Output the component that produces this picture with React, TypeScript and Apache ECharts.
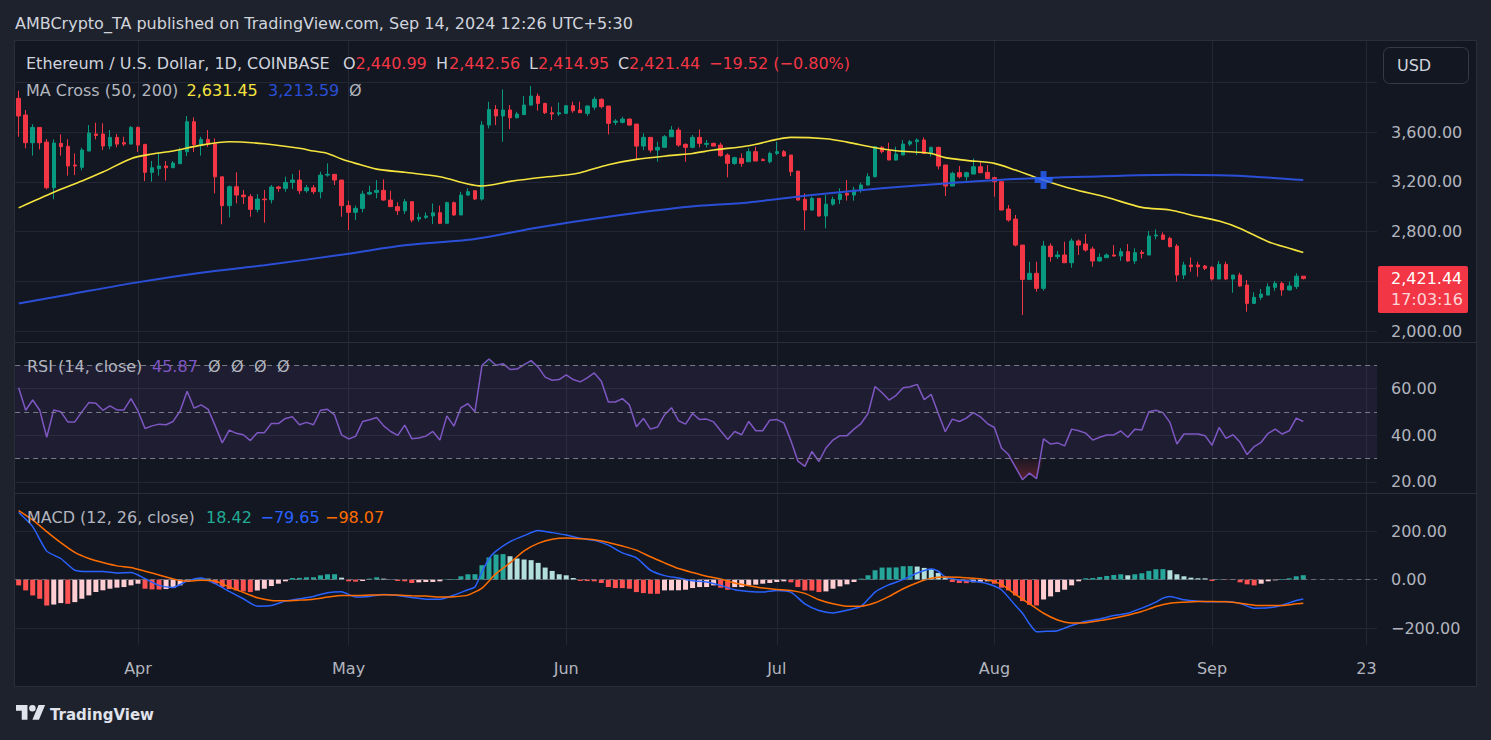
import React, { useEffect, useRef } from "react";
import * as echarts from "echarts";

const FONT = "'DejaVu Sans', 'Noto Sans', sans-serif";
const BG = "#131722";
const OUTER = "#1E222D";
const GRID = "#232733";
const TEXT = "#B2B5BE";
const LIGHT = "#D1D4DC";
const UP = "#089981";
const DOWN = "#F23645";
const MA_FAST = "#F5E33E";
const MA_SLOW = "#2A4FD6";
const RSI_C = "#7E57C2";

// ---- categories: one per calendar day (2024-03-15 .. 2024-09-24) ----
const dayCount = 194;
const days: string[] = [];
for (let i = 0; i < dayCount; i++) {
  days.push(new Date(Date.UTC(2024, 2, 15) + i * 86400000).toISOString().slice(0, 10));
}
const tickDays = ["2024-04-01", "2024-05-01", "2024-06-01", "2024-07-01", "2024-08-01", "2024-09-01", "2024-09-23"];
const tickNames = ["Apr", "May", "Jun", "Jul", "Aug", "Sep", "23"];

// ---- ETH/USD daily candles ----
const opens = [
  3871, 3737, 3514, 3637, 3519, 3152, 3509, 3485, 3335, 3316,
  3447, 3584, 3584, 3487, 3557, 3514, 3503, 3637, 3501, 3276,
  3305, 3327, 3313, 3345, 3442, 3683, 3500, 3541, 3505, 3240,
  3008, 3160, 3093, 3080, 2978, 3061, 3056, 3158, 3147, 3195,
  3214, 3128, 3152, 3120, 3254, 3260, 3214, 3008, 2954, 2986,
  3101, 3115, 3131, 3053, 3000, 2967, 3040, 2900, 2914, 2925,
  2951, 2866, 3032, 2933, 3093, 3128, 3061, 3656, 3782, 3729,
  3777, 3715, 3740, 3817, 3889, 3830, 3755, 3745, 3750, 3812,
  3777, 3750, 3800, 3863, 3809, 3678, 3678, 3704, 3664, 3487,
  3557, 3455, 3477, 3562, 3616, 3501, 3477, 3557, 3501, 3509,
  3495, 3415, 3348, 3388, 3361, 3442, 3380, 3361, 3428, 3442,
  3415, 3286, 3059, 2973, 3067, 2925, 3020, 3058, 3107, 3093,
  3134, 3174, 3241, 3477, 3447, 3375, 3415, 3503, 3522, 3536,
  3428, 3477, 3335, 3166, 3273, 3241, 3262, 3321, 3276, 3233,
  3201, 2981, 2900, 2691, 2415, 2464, 2343, 2683, 2598, 2611,
  2549, 2724, 2699, 2659, 2563, 2590, 2611, 2603, 2638, 2563,
  2632, 2611, 2764, 2772, 2745, 2683, 2450, 2531, 2531, 2523,
  2512, 2418, 2536, 2418, 2450, 2370, 2222, 2271, 2289, 2351,
  2383, 2330, 2357, 2440.99,
];
const highs = [
  3932, 3777, 3664, 3637, 3544, 3541, 3581, 3541, 3428, 3474,
  3656, 3675, 3670, 3616, 3584, 3562, 3648, 3645, 3501, 3367,
  3436, 3367, 3367, 3474, 3729, 3718, 3562, 3616, 3549, 3241,
  3170, 3276, 3134, 3101, 3101, 3134, 3174, 3168, 3241, 3262,
  3294, 3174, 3174, 3281, 3348, 3260, 3214, 3048, 3008, 3128,
  3168, 3214, 3219, 3128, 3035, 3061, 3040, 2946, 2954, 3026,
  3008, 3040, 3040, 3120, 3147, 3134, 3688, 3844, 3817, 3943,
  3817, 3763, 3889, 3970, 3911, 3836, 3804, 3838, 3817, 3844,
  3844, 3817, 3884, 3871, 3809, 3704, 3723, 3710, 3664, 3589,
  3557, 3522, 3576, 3648, 3637, 3509, 3576, 3621, 3536, 3514,
  3514, 3428, 3402, 3428, 3469, 3482, 3388, 3442, 3522, 3455,
  3415, 3286, 3107, 3080, 3067, 3093, 3080, 3147, 3214, 3160,
  3193, 3268, 3487, 3487, 3514, 3482, 3536, 3536, 3549, 3557,
  3482, 3482, 3335, 3281, 3327, 3281, 3388, 3362, 3335, 3241,
  3201, 3013, 2933, 2691, 2557, 2557, 2724, 2705, 2643, 2718,
  2745, 2737, 2780, 2678, 2624, 2624, 2691, 2665, 2699, 2665,
  2651, 2804, 2817, 2793, 2759, 2699, 2557, 2592, 2557, 2531,
  2523, 2563, 2557, 2450, 2469, 2410, 2311, 2338, 2383, 2402,
  2397, 2397, 2464, 2442.56,
];
const lows = [
  3562, 3469, 3410, 3460, 3140, 3059, 3410, 3249, 3254, 3292,
  3447, 3541, 3455, 3461, 3477, 3487, 3503, 3440, 3206, 3201,
  3249, 3209, 3313, 3345, 3407, 3440, 3410, 3480, 3107, 2858,
  2914, 3026, 3021, 2919, 2954, 2871, 3026, 3120, 3120, 3142,
  3101, 3112, 3101, 3067, 3241, 3174, 2919, 2812, 2892, 2954,
  3093, 3067, 3048, 2999, 2933, 2941, 2874, 2879, 2900, 2860,
  2860, 2860, 2927, 2932, 3088, 3053, 3048, 3629, 3656, 3522,
  3624, 3710, 3737, 3811, 3772, 3745, 3696, 3729, 3745, 3755,
  3755, 3729, 3777, 3790, 3581, 3656, 3669, 3650, 3380, 3455,
  3434, 3361, 3477, 3562, 3482, 3361, 3469, 3477, 3477, 3487,
  3402, 3236, 3335, 3321, 3361, 3367, 3370, 3348, 3415, 3402,
  3246, 3048, 2812, 2967, 2919, 2825, 3008, 3021, 3048, 3048,
  3112, 3168, 3235, 3428, 3375, 3370, 3415, 3487, 3415, 3423,
  3402, 3300, 3085, 3166, 3227, 3209, 3262, 3268, 3219, 3080,
  2968, 2879, 2680, 2129, 2415, 2316, 2324, 2557, 2579, 2549,
  2509, 2611, 2638, 2517, 2557, 2590, 2598, 2565, 2557, 2539,
  2584, 2611, 2737, 2737, 2673, 2397, 2418, 2477, 2437, 2490,
  2405, 2418, 2410, 2308, 2356, 2155, 2222, 2249, 2289, 2324,
  2284, 2324, 2338, 2414.95,
];
const closes = [
  3729, 3514, 3637, 3514, 3152, 3511, 3482, 3327, 3327, 3455,
  3592, 3573, 3487, 3557, 3503, 3503, 3637, 3495, 3276, 3313,
  3327, 3313, 3351, 3450, 3683, 3500, 3541, 3505, 3240, 3008,
  3160, 3093, 3080, 2978, 3061, 3056, 3158, 3147, 3195, 3214,
  3128, 3152, 3120, 3254, 3260, 3214, 3008, 2954, 2986, 3101,
  3115, 3131, 3053, 3000, 2967, 3040, 2892, 2914, 2925, 2951,
  2866, 3032, 2933, 3093, 3120, 3061, 3656, 3782, 3729, 3777,
  3715, 3745, 3817, 3889, 3830, 3755, 3745, 3755, 3812, 3771,
  3755, 3809, 3863, 3804, 3670, 3688, 3704, 3656, 3487, 3557,
  3455, 3477, 3562, 3616, 3495, 3477, 3557, 3509, 3509, 3487,
  3410, 3348, 3394, 3348, 3442, 3367, 3370, 3428, 3442, 3407,
  3281, 3053, 2973, 3067, 2925, 3020, 3058, 3101, 3093, 3134,
  3174, 3241, 3482, 3442, 3375, 3423, 3503, 3522, 3536, 3428,
  3477, 3327, 3166, 3268, 3241, 3273, 3321, 3273, 3227, 3201,
  2973, 2892, 2691, 2415, 2464, 2343, 2683, 2598, 2611, 2549,
  2724, 2691, 2651, 2563, 2592, 2611, 2603, 2638, 2563, 2630,
  2624, 2764, 2772, 2737, 2678, 2450, 2531, 2517, 2517, 2504,
  2418, 2536, 2418, 2450, 2362, 2222, 2271, 2297, 2356, 2383,
  2330, 2362, 2440.99, 2421.44,
];

// ---- MA Cross (50, 200): [day index, value] ----
const ma50 = [
  [0, 2990], [5, 3115], [9, 3206], [12, 3278], [16, 3386], [19, 3423], [22, 3447], [26, 3495],
  [30, 3522], [35, 3506], [40, 3469], [42, 3447], [44, 3428], [46, 3383], [48, 3348], [51, 3302],
  [55, 3276], [60, 3241], [64, 3182], [66, 3166], [70, 3203], [74, 3233], [78, 3254], [80, 3273],
  [84, 3337], [88, 3380], [93, 3412], [96, 3428], [99, 3455], [104, 3490], [108, 3541], [110, 3557],
  [115, 3546], [118, 3519], [122, 3474], [125, 3450], [130, 3428], [132, 3394], [135, 3372],
  [139, 3348], [142, 3294], [144, 3254], [146, 3214], [150, 3144], [155, 3075], [160, 2994],
  [164, 2973], [167, 2933], [171, 2884], [174, 2825], [178, 2718], [181, 2665], [183, 2631.45],
];
const ma200 = [
  [0, 2222], [7, 2292], [16, 2383], [26, 2469], [35, 2528], [47, 2622], [55, 2689], [65, 2740],
  [74, 2833], [84, 2919], [95, 2997], [104, 3034], [113, 3093], [123, 3147], [132, 3187],
  [142, 3222], [152, 3241], [165, 3257], [171, 3252], [176, 3241], [183, 3213.59],
];
const crossDay = 146;
const crossValue = 3214;

// ---- RSI (14, close), one per candle ----
const rsi = [
  60.35, 50.7, 55.1, 50.7, 39.1, 50.85, 50.1, 45.7, 45.7, 50.0,
  54.0, 53.7, 50.7, 52.55, 50.85, 50.85, 55.7, 50.4, 42.9, 44.0,
  44.75, 44.5, 45.9, 50.4, 58.9, 51.6, 53.0, 51.1, 44.0, 36.7,
  42.2, 40.8, 40.2, 37.7, 41.1, 41.1, 45.0, 45.0, 47.2, 47.9,
  44.5, 45.5, 44.5, 50.7, 51.1, 48.7, 40.1, 38.4, 39.5, 45.9,
  46.6, 47.6, 44.0, 41.6, 39.9, 44.3, 38.5, 38.8, 39.6, 41.6,
  37.9, 48.3, 43.9, 51.8, 53.5, 50.1, 70.0, 72.7, 70.0, 70.7,
  68.2, 68.4, 70.3, 72.0, 69.2, 64.9, 63.6, 63.9, 65.9, 63.9,
  62.9, 64.6, 66.7, 63.2, 54.25, 54.25, 55.7, 53.0, 43.6, 47.2,
  42.6, 43.5, 48.7, 51.8, 46.2, 44.75, 49.3, 46.7, 46.9, 45.7,
  41.9, 38.2, 41.6, 40.2, 45.9, 41.9, 41.9, 46.45, 46.7, 45.3,
  37.7, 28.9, 26.6, 33.0, 28.7, 34.5, 37.9, 39.8, 39.8, 42.6,
  45.0, 49.3, 60.9, 58.2, 55.1, 57.1, 60.35, 60.8, 61.8, 55.25,
  57.5, 49.3, 41.5, 46.9, 45.9, 47.3, 49.7, 47.9, 45.0, 43.3,
  34.5, 31.7, 26.3, 20.9, 23.75, 21.3, 38.4, 36.2, 36.7, 35.4,
  42.6, 41.9, 40.9, 37.9, 39.1, 40.1, 40.1, 41.8, 39.1, 42.6,
  42.2, 50.1, 50.7, 49.7, 45.5, 36.2, 40.5, 40.5, 40.5, 39.8,
  35.7, 43.3, 38.65, 40.2, 36.95, 31.7, 35.1, 36.95, 40.8, 42.6,
  40.5, 41.9, 47.3, 45.87,
];

// ---- MACD (12, 26, close) ----
const macdHist = [
  -23.6, -44.4, -65.3, -79, -107, -103, -97, -100, -93, -79,
  -65, -51, -44, -37.5, -33, -30.6, -23.6, -16.7, -37.5, -40.3,
  -40.8, -38.9, -34.7, -23.6, -9.7, 2.8, 6.9, 4.2, -16.7, -30.6,
  -38.9, -44.4, -48.6, -51.4, -44.4, -37.5, -26.4, -16.7, -6.9, 6.9,
  7.2, 9.7, 9.9, 18, 22.2, 22.5, 8.3, -6.9, -8.3, -5.6,
  4.2, 9.7, 4.2, 1, -5.6, -6.9, -13.9, -11.1, -9.7, -9.5,
  -6.9, 1.5, 2.8, 13.9, 22.2, 22.5, 59.7, 91.7, 104, 105.6,
  97.2, 87.5, 83.3, 80.6, 69.4, 50, 36.1, 22.2, 18, 6.9,
  -5.6, -5.8, -6.9, -13.9, -30.6, -34.7, -34.9, -37.5, -51.4, -55.6,
  -58.3, -58.5, -44.4, -44.2, -44.0, -41.7, -34.7, -30.6, -30.4, -23.6,
  -33.3, -41.7, -30.6, -30.4, -23.6, -20.8, -16.7, -13.9, -9.7, -6.9,
  -11.1, -30.6, -44.4, -45, -51.4, -48.6, -37.5, -27.8, -19.4, -9.7,
  4.2, 18, 38.9, 50, 50.2, 50.5, 55.6, 56, 54.2, 48.6,
  44.4, 27.8, 8.3, -9.7, -13.9, -14.5, -11.1, -8.3, -6.9, -16.7,
  -33.3, -44.4, -65.3, -88.9, -104, -107, -82, -69.4, -51.4, -41.7,
  -23.6, -6.9, 5.6, 6.9, 11.1, 15.3, 19.4, 22.2, 18, 22.2,
  26.4, 36.1, 43, 43.5, 38.9, 22.2, 13.9, 8.3, 5.6, 5.5,
  -5.6, 1.4, -1.4, -1.0, -11.1, -19.4, -23.6, -16.7, -6.9, -2.8,
  2.8, 5.6, 13.9, 18.42,
];
const macdLine = [
  [0, 277.8], [2, 219.5], [4, 118], [6, 87.5], [8, 38.9], [10, 33.3], [12, 33.3], [14, 27.8],
  [16, 29.2], [18, 4.2], [20, -23.6], [22, -32], [24, -5.6], [26, 6.9], [28, -16.7], [30, -48.6],
  [32, -79], [34, -109.7], [36, -107], [38, -88.9], [40, -79], [42, -69.4], [44, -54], [46, -50],
  [48, -72.2], [50, -69.4], [52, -61], [54, -65.3], [56, -73.6], [58, -80.6], [60, -80.6],
  [62, -64], [64, -41.7], [65, -30.6], [66, 32], [67, 87.5], [68, 118], [70, 157], [72, 182],
  [74, 202.8], [76, 194.5], [78, 184.7], [80, 170.8], [82, 162.5], [84, 143], [86, 111],
  [88, 90.3], [90, 38.9], [92, 16.7], [94, 6.9], [96, -4.2], [98, -9.7], [100, -23.6],
  [102, -41.7], [104, -48.6], [106, -51.4], [108, -44.4], [110, -51.4], [112, -100], [114, -127.8],
  [116, -137.5], [118, -126.4], [120, -111], [122, -51.4], [124, -20.8], [126, 0], [128, 27.8],
  [130, 44.4], [131, 34.7], [132, 11.1], [134, -1.4], [136, -6.9], [138, -16.7], [140, -41.7],
  [142, -107], [143, -139], [144, -183], [145, -215], [146, -214], [148, -211], [150, -190],
  [152, -172], [154, -162.5], [156, -148.6], [158, -139], [160, -118], [162, -93], [163, -76.4],
  [164, -69.4], [166, -83.3], [168, -88.9], [170, -91.7], [172, -90.3], [174, -98.6], [176, -118],
  [178, -116.7], [180, -105.6], [182, -86.1], [183, -79.65],
];
const signalLine = [
  [0, 286], [2, 247], [4, 198.6], [6, 152.8], [8, 112.5], [10, 87.5], [12, 70.8], [14, 57],
  [16, 50], [18, 34.7], [20, 19.4], [22, 2.8], [24, -5.6], [26, -2.8], [28, -5.6], [30, -30.6],
  [32, -52.8], [34, -75], [36, -86.1], [38, -87.5], [40, -84.7], [42, -80.6], [44, -72.2],
  [46, -65.3], [48, -65.3], [50, -63.9], [52, -62.5], [54, -63.9], [56, -66.7], [58, -68],
  [60, -72.2], [62, -70.8], [64, -63.9], [66, -34.7], [68, 25], [70, 69.4], [72, 119.4],
  [74, 150], [76, 166.7], [78, 172], [80, 169.5], [82, 165.3], [84, 154], [86, 139], [88, 122],
  [90, 94.5], [92, 69.4], [94, 45.8], [96, 29.2], [98, 13.9], [100, 2.8], [102, -13.9],
  [104, -25], [106, -34.7], [108, -40.3], [110, -44.4], [112, -56.9], [114, -83.3], [116, -100],
  [118, -109.7], [120, -109.7], [122, -95.8], [124, -69.4], [126, -37.5], [128, -12.5],
  [130, 5.6], [132, 11.1], [134, 9.7], [136, 5.6], [138, 0], [140, -19.4], [142, -61],
  [144, -100], [146, -139], [148, -166.7], [150, -179], [152, -177.8], [154, -169.5],
  [156, -159.7], [158, -147.2], [160, -132], [162, -111], [164, -97.2], [166, -93], [168, -90.3],
  [170, -90.3], [172, -91.7], [174, -97.2], [176, -105.6], [178, -107], [180, -107], [182, -100],
  [183, -98.07],
];

const TV_LOGO = "M14 22H7V11H0V4h14v18zM28 22h-8l7.5-18h8L28 22zM24 8a4 4 0 1 1-8 0a4 4 0 1 1 8 0z";
echarts.graphic.registerShape("tvlogo", echarts.graphic.extendPath(TV_LOGO, {}));

const fmt = (v: number) =>
  (v < 0 ? "\u2212" : "") +
  Math.abs(v).toLocaleString("en-US", { minimumFractionDigits: 2, maximumFractionDigits: 2 });

const txt = (x: number, y: number, text: string, fill: string, size = 16, weight = "normal") => ({
  type: "text",
  z: 100,
  silent: true,
  style: { x, y, text, fill, fontSize: size, fontFamily: FONT, fontWeight: weight, align: "left", verticalAlign: "middle" },
});

function histColor(i: number) {
  const v = macdHist[i];
  const p = i > 0 ? macdHist[i - 1] : 0;
  if (v >= 0) return v >= p ? "#26A69A" : "#B2DFDB";
  return v < p ? "#FF5252" : "#FFCDD2";
}

function buildOption() {
  const L = 15.15;
  const R = 114;
  const pair = (arr: number[][]) => arr.map(([d, v]) => [days[d], v]);
  const axisLabel = (hide: number[]) => ({
    color: TEXT,
    fontSize: 16,
    fontFamily: FONT,
    margin: 14,
    formatter: (v: number) => (hide.includes(v) ? "" : fmt(v)),
  });
  const valueAxis = (gridIndex: number, min: number, max: number, interval: number, hide: number[]) => ({
    type: "value",
    gridIndex,
    position: "right",
    min,
    max,
    interval,
    axisLine: { show: false },
    axisTick: { show: false },
    splitLine: { show: true, lineStyle: { color: GRID, width: 1 } },
    axisLabel: axisLabel(hide),
  });
  const hiddenCat = (gridIndex: number) => ({
    type: "category",
    gridIndex,
    data: days,
    boundaryGap: true,
    show: false,
  });
  const isTick = (_i: number, v: string) => tickDays.includes(v);

  return {
    animation: false,
    backgroundColor: OUTER,
    textStyle: { fontFamily: FONT },
    grid: [
      { left: 18.66, right: 117.5, top: 41, bottom: 95, containLabel: false, outerBoundsMode: "none" },
      { left: L, right: R, top: 82.3, height: 248.7, containLabel: false, outerBoundsMode: "none" },
      { left: L, right: R, top: 342, height: 139.8, containLabel: false, outerBoundsMode: "none" },
      { left: L, right: R, top: 531.3, height: 96.7, containLabel: false, outerBoundsMode: "none" },
    ],
    xAxis: [
      {
        type: "category",
        gridIndex: 0,
        data: days,
        boundaryGap: false,
        axisLine: { show: false },
        axisTick: { show: false },
        axisLabel: {
          interval: isTick,
          formatter: (v: string) => tickNames[tickDays.indexOf(v)] ?? "",
          color: TEXT,
          fontSize: 16,
          fontFamily: FONT,
          margin: 15,
        },
        splitLine: { show: true, interval: isTick, lineStyle: { color: GRID, width: 1 } },
      },
      hiddenCat(1),
      hiddenCat(2),
      hiddenCat(3),
    ],
    yAxis: [
      { type: "value", gridIndex: 0, min: 0, max: 1, show: false },
      valueAxis(1, 2000, 4000, 400, [4000, 2400]),
      valueAxis(2, 20, 80, 20, [80]),
      valueAxis(3, -200, 200, 200, []),
    ],
    series: [
      {
        type: "candlestick",
        xAxisIndex: 1,
        yAxisIndex: 1,
        barWidth: 4,
        data: opens.map((o, i) => [o, closes[i], lows[i], highs[i]]),
        itemStyle: { color: UP, color0: DOWN, borderColor: UP, borderColor0: DOWN, borderWidth: 1 },
        z: 2,
      },
      {
        type: "line",
        xAxisIndex: 1,
        yAxisIndex: 1,
        data: pair(ma50),
        showSymbol: false,
        smooth: 0.3,
        lineStyle: { color: MA_FAST, width: 1.6 },
        z: 3,
        silent: true,
      },
      {
        type: "line",
        xAxisIndex: 1,
        yAxisIndex: 1,
        data: pair(ma200),
        showSymbol: false,
        smooth: 0.3,
        lineStyle: { color: MA_SLOW, width: 2 },
        z: 3,
        silent: true,
      },
      {
        type: "scatter",
        xAxisIndex: 1,
        yAxisIndex: 1,
        data: [[days[crossDay], crossValue]],
        symbol: "path://M6,0L12,0L12,6L18,6L18,12L12,12L12,18L6,18L6,12L0,12L0,6L6,6Z",
        symbolSize: 18,
        itemStyle: { color: "#2962FF" },
        z: 5,
        silent: true,
      },
      {
        type: "line",
        xAxisIndex: 2,
        yAxisIndex: 2,
        data: rsi.map((v, i) => [days[i], v < 30 ? v : 30]),
        showSymbol: false,
        lineStyle: { width: 0, opacity: 0 },
        areaStyle: {
          origin: 30,
          color: new echarts.graphic.LinearGradient(0, 0, 0, 1, [
            { offset: 0, color: "rgba(242,54,69,0.05)" },
            { offset: 1, color: "rgba(242,54,69,0.45)" },
          ]),
        },
        silent: true,
        z: 2,
      },
      {
        type: "line",
        xAxisIndex: 2,
        yAxisIndex: 2,
        data: rsi.map((v, i) => [days[i], v > 70 ? v : 70]),
        showSymbol: false,
        lineStyle: { width: 0, opacity: 0 },
        areaStyle: {
          origin: 70,
          color: new echarts.graphic.LinearGradient(0, 0, 0, 1, [
            { offset: 0, color: "rgba(8,153,129,0.45)" },
            { offset: 1, color: "rgba(8,153,129,0.05)" },
          ]),
        },
        silent: true,
        z: 2,
      },
      {
        type: "line",
        xAxisIndex: 2,
        yAxisIndex: 2,
        data: rsi.map((v, i) => [days[i], v]),
        showSymbol: false,
        lineStyle: { color: RSI_C, width: 1.5 },
        z: 3,
        silent: true,
        markArea: {
          silent: true,
          itemStyle: { color: "rgba(126,87,194,0.1)" },
          data: [[{ yAxis: 30 }, { yAxis: 70 }]],
        },
        markLine: {
          silent: true,
          symbol: ["none", "none"],
          label: { show: false },
          lineStyle: { color: "#787B86", type: [5, 4], width: 1 },
          data: [{ yAxis: 70 }, { yAxis: 50 }, { yAxis: 30 }],
        },
      },
      {
        type: "line",
        xAxisIndex: 3,
        yAxisIndex: 3,
        data: [],
        z: 1,
        silent: true,
        markLine: {
          silent: true,
          symbol: ["none", "none"],
          label: { show: false },
          lineStyle: { color: "#787B86", type: [5, 4], width: 1, opacity: 0.8 },
          data: [{ yAxis: 0 }],
        },
      },
      {
        type: "bar",
        xAxisIndex: 3,
        yAxisIndex: 3,
        barWidth: 5,
        data: macdHist.map((v, i) => ({ value: [days[i], v], itemStyle: { color: histColor(i) } })),
        z: 2,
        silent: true,
      },
      {
        type: "line",
        xAxisIndex: 3,
        yAxisIndex: 3,
        data: pair(macdLine),
        showSymbol: false,
        smooth: 0.2,
        clip: false,
        lineStyle: { color: "#2962FF", width: 1.5 },
        z: 3,
        silent: true,
      },
      {
        type: "line",
        xAxisIndex: 3,
        yAxisIndex: 3,
        data: pair(signalLine),
        showSymbol: false,
        smooth: 0.2,
        clip: false,
        lineStyle: { color: "#FF6D00", width: 1.5 },
        z: 3,
        silent: true,
      },
    ],
    graphic: [
      {
        type: "rect",
        z: -10,
        silent: true,
        shape: { x: 14.5, y: 40.5, width: 1462, height: 646 },
        style: { fill: BG, stroke: "#2A2E39", lineWidth: 1 },
      },
      { type: "line", z: 50, silent: true, shape: { x1: 15, y1: 342.5, x2: 1476, y2: 342.5 }, style: { stroke: "#2A2E39", lineWidth: 1 } },
      { type: "line", z: 50, silent: true, shape: { x1: 15, y1: 493.5, x2: 1476, y2: 493.5 }, style: { stroke: "#2A2E39", lineWidth: 1 } },
      txt(15, 23, "AMBCrypto_TA published on TradingView.com, Sep 14, 2024 12:26 UTC+5:30", LIGHT),
      txt(26, 63.5, "Ethereum / U.S. Dollar, 1D, COINBASE", LIGHT),
      txt(343, 63.5, "O", LIGHT),
      txt(355.5, 63.5, "2,440.99", DOWN),
      txt(436, 63.5, "H", LIGHT),
      txt(449, 63.5, "2,442.56", DOWN),
      txt(529, 63.5, "L", LIGHT),
      txt(538, 63.5, "2,414.95", DOWN),
      txt(618, 63.5, "C", LIGHT),
      txt(629, 63.5, "2,421.44", DOWN),
      txt(709, 63.5, "\u221219.52 (\u22120.80%)", DOWN),
      txt(26, 90, "MA Cross (50, 200)", TEXT),
      txt(186.5, 90, "2,631.45", MA_FAST),
      txt(268, 90, "3,213.59", MA_SLOW),
      txt(349, 90, "\u00D8", TEXT),
      txt(27, 366, "RSI (14, close)", TEXT),
      txt(152, 366, "45.87", RSI_C),
      txt(208, 366, "\u00D8", TEXT),
      txt(231, 366, "\u00D8", TEXT),
      txt(254, 366, "\u00D8", TEXT),
      txt(277, 366, "\u00D8", TEXT),
      txt(27, 517, "MACD (12, 26, close)", TEXT),
      txt(206, 517, "18.42", "#22AB94"),
      txt(260.5, 517, "\u221279.65", "#2962FF"),
      txt(325, 517, "\u221298.07", "#FF6D00"),
      {
        type: "rect",
        z: 100,
        silent: true,
        shape: { x: 1383.5, y: 47.5, width: 85, height: 36, r: 6 },
        style: { fill: BG, stroke: "#363A45", lineWidth: 1 },
      },
      txt(1397, 65.5, "USD", LIGHT),
      {
        type: "rect",
        z: 100,
        silent: true,
        shape: { x: 1378, y: 266, width: 90, height: 47, r: 2 },
        style: { fill: DOWN },
      },
      txt(1391, 278.5, "2,421.44", "#FFFFFF"),
      txt(1391, 299, "17:03:16", "rgba(255,255,255,0.8)"),
      {
        type: "tvlogo",
        z: 100,
        silent: true,
        x: 16,
        y: 701.7,
        scaleX: 0.82,
        scaleY: 0.82,
        style: { fill: "#E0E3EB" },
      },
      txt(50, 715, "TradingView", "#E0E3EB", 15, "bold"),
    ],
  };
}

export default function App() {
  const ref = useRef<HTMLDivElement>(null);
  useEffect(() => {
    document.body.style.margin = "0";
    document.body.style.background = OUTER;
    if (!ref.current) return;
    const chart = echarts.init(ref.current, null, { renderer: "svg" });
    chart.setOption(buildOption() as any);
    return () => chart.dispose();
  }, []);
  return <div ref={ref} style={{ width: 1491, height: 740, position: "fixed", left: 0, top: 0 }} />;
}
